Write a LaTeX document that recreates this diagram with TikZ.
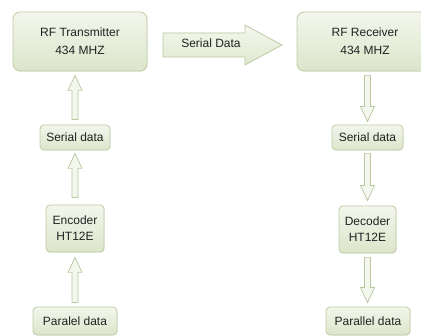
\documentclass[tikz,border=0pt]{standalone}
\usepackage{fontspec}
\setmainfont{Liberation Sans}
\usetikzlibrary{calc,shadows}
\definecolor{boxtop}{HTML}{F2F6EC}
\definecolor{boxbot}{HTML}{DCE5CA}
\definecolor{boxline}{HTML}{BFCCA6}
\definecolor{arrtop}{HTML}{F4F7EE}
\definecolor{arrbot}{HTML}{E0E8D0}
\definecolor{arrline}{HTML}{B9C79F}
\definecolor{txtgray}{HTML}{222222}

% block arrow from tail to tip (vertical)
\newcommand{\blk}[2]{%
  \draw[blkarrow] let \p1=(#1), \p2=(#2), \n1={ifthenelse(\y2>\y1,1,-1)} in
    (\x1-3,\y1) -- (\x1-3,\y2-15*\n1) -- (\x1-7,\y2-15*\n1) -- (\x1,\y2)
    -- (\x1+7,\y2-15*\n1) -- (\x1+3,\y2-15*\n1) -- (\x1+3,\y1) -- cycle;}

\begin{document}
\begin{tikzpicture}[x=1pt, y=-1pt,
    blockbox/.style={draw=boxline, line width=0.8pt, rounded corners=7pt,
      top color=boxtop, bottom color=boxbot, align=center, inner sep=0pt,
      text=txtgray, font=\fontsize{12}{16}\selectfont,
      drop shadow={opacity=0.12, shadow xshift=0.8pt, shadow yshift=-0.8pt}},
    smallbox/.style={blockbox, rounded corners=4pt},
    blkarrow/.style={draw=arrline, line width=0.7pt, fill=arrtop, line join=miter}]
    \fill[white] (0,0) rectangle (421,336);
    \useasboundingbox (0,0) rectangle (421,336);
    \clip (0,0) rectangle (421,336);
    % Transmitter side
    \node[blockbox, minimum width=134, minimum height=59] (tx) at (80,41.5)
      {RF Transmitter\\[2pt]434 MHZ};
    \node[smallbox, minimum width=70, minimum height=25] (ser1) at (75,137.5) {Serial data};
    \node[smallbox, minimum width=58, minimum height=47] (enc) at (75,228.5) {Encoder\\HT12E};
    \node[smallbox, minimum width=84, minimum height=28] (par1) at (75,321) {Paralel data};
    % Receiver side
    \node[blockbox, minimum width=136, minimum height=59] (rx) at (365,41.5)
      {RF Receiver\\[2pt]434 MHZ};
    \node[smallbox, minimum width=71, minimum height=25] (ser2) at (367.5,137.5) {Serial data};
    \node[smallbox, minimum width=57, minimum height=47] (dec) at (367.5,229.5) {Decoder\\HT12E};
    \node[smallbox, minimum width=84, minimum height=28] (par2) at (368,321) {Parallel data};
    % Serial Data arrow
    \draw[blkarrow, top color=arrtop, bottom color=arrbot]
      (163,33) -- (245,33) -- (245,25) -- (282,45) -- (245,65) -- (245,57) -- (163,57) -- cycle;
    \node[text=txtgray, font=\fontsize{12}{14}\selectfont] (sdlbl) at (211,43.5) {Serial Data};
    % up arrows
    \blk{$(ser1.north)+(0,-5)$}{$(tx.south)+(0,4)$}
    \blk{$(enc.north)+(0,-7)$}{$(ser1.south)+(0,3)$}
    \blk{$(par1.north)+(0,-4)$}{$(enc.south)+(0,5)$}
    % down arrows
    \blk{$(rx.south)+(2.5,4)$}{$(ser2.north)+(0,-3)$}
    \blk{$(ser2.south)+(0,3)$}{$(dec.north)+(0,-5)$}
    \blk{$(dec.south)+(0,4)$}{$(par2.north)+(0,-4)$}
\end{tikzpicture}
\end{document}
